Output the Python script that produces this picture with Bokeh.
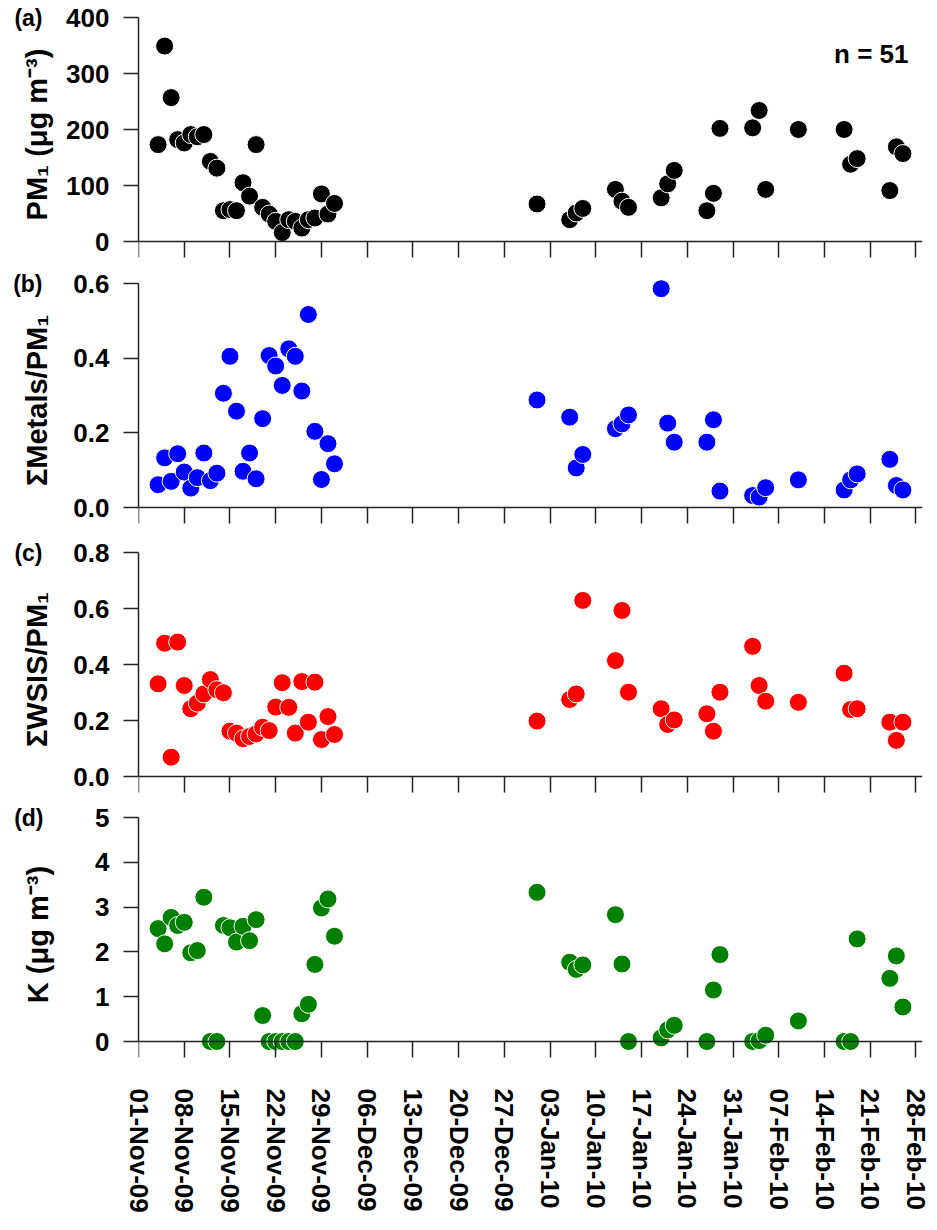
import pandas as pd
from bokeh.plotting import figure
from bokeh.layouts import column
from bokeh.models import (Range1d, FixedTicker, DatetimeAxis, LinearAxis,
                          NumeralTickFormatter, CustomJSTickFormatter, Label)
from bokeh.embed import file_html
from bokeh.resources import INLINE

# sampling dates (n = 51)
dates = [
    "2009-11-04", "2009-11-05", "2009-11-06", "2009-11-07", "2009-11-08",
    "2009-11-09", "2009-11-10", "2009-11-11", "2009-11-12", "2009-11-13",
    "2009-11-14", "2009-11-15", "2009-11-16", "2009-11-17", "2009-11-18",
    "2009-11-19", "2009-11-20", "2009-11-21", "2009-11-22", "2009-11-23",
    "2009-11-24", "2009-11-25", "2009-11-26", "2009-11-27", "2009-11-28",
    "2009-11-29", "2009-11-30", "2009-12-01",
    "2010-01-01", "2010-01-06", "2010-01-07", "2010-01-08", "2010-01-13",
    "2010-01-14", "2010-01-15", "2010-01-20", "2010-01-21", "2010-01-22",
    "2010-01-27", "2010-01-28", "2010-01-29", "2010-02-03", "2010-02-04",
    "2010-02-05", "2010-02-10", "2010-02-17", "2010-02-18", "2010-02-19",
    "2010-02-24", "2010-02-25", "2010-02-26",
]

pm1 = [173, 349, 257, 182, 176, 191, 187, 191, 143, 131,
       55, 57, 55, 105, 81, 173, 61, 49, 36, 16,
       39, 36, 24, 39, 42, 85, 49, 68,
       67, 39, 51, 59, 93, 72, 61, 78, 103, 127,
       55, 86, 202, 203, 234, 93, 200, 200, 138, 148,
       91, 169, 157]

metals_ratio = [0.061, 0.133, 0.070, 0.144, 0.095, 0.052, 0.080, 0.146, 0.072, 0.092,
                0.306, 0.405, 0.258, 0.097, 0.146, 0.077, 0.238, 0.407, 0.379, 0.327,
                0.425, 0.405, 0.312, 0.517, 0.204, 0.075, 0.171, 0.117,
                0.288, 0.242, 0.106, 0.142, 0.211, 0.224, 0.248, 0.586, 0.226, 0.175,
                0.175, 0.235, 0.044, 0.032, 0.028, 0.053, 0.074, 0.047, 0.074, 0.090,
                0.129, 0.059, 0.047]

wsis_ratio = [0.331, 0.476, 0.069, 0.480, 0.325, 0.242, 0.262, 0.295, 0.346, 0.310,
              0.299, 0.162, 0.155, 0.135, 0.143, 0.152, 0.176, 0.164, 0.248, 0.335,
              0.247, 0.155, 0.339, 0.194, 0.337, 0.132, 0.214, 0.150,
              0.198, 0.275, 0.295, 0.629, 0.414, 0.593, 0.301, 0.242, 0.186, 0.202,
              0.224, 0.162, 0.301, 0.465, 0.325, 0.269, 0.265, 0.369, 0.239, 0.242,
              0.194, 0.129, 0.194]

k_conc = [2.52, 2.18, 2.77, 2.59, 2.66, 1.98, 2.03, 3.22, 0, 0,
          2.59, 2.54, 2.22, 2.57, 2.25, 2.72, 0.58, 0, 0, 0,
          0, 0, 0.62, 0.83, 1.72, 2.98, 3.18, 2.35,
          3.33, 1.77, 1.61, 1.71, 2.83, 1.73, 0, 0.08, 0.26, 0.36,
          0, 1.15, 1.94, 0, 0.02, 0.14, 0.46, 0, 0, 2.29,
          1.41, 1.91, 0.77]

tick_labels = ["01-Nov-09", "08-Nov-09", "15-Nov-09", "22-Nov-09", "29-Nov-09",
               "06-Dec-09", "13-Dec-09", "20-Dec-09", "27-Dec-09", "03-Jan-10",
               "10-Jan-10", "17-Jan-10", "24-Jan-10", "31-Jan-10", "07-Feb-10",
               "14-Feb-10", "21-Feb-10", "28-Feb-10"]

pm1_ticks = [0, 100, 200, 300, 400]
metals_ticks = [0.0, 0.2, 0.4, 0.6]
wsis_ticks = [0.0, 0.2, 0.4, 0.6, 0.8]
k_ticks = [0, 1, 2, 3, 4, 5]

x = pd.to_datetime(dates)
x_start, x_end = pd.Timestamp("2009-11-01"), pd.Timestamp("2010-03-01")
x_range = Range1d(x_start, x_end)
to_ms = lambda t: float((t - pd.Timestamp("1970-01-01")) // pd.Timedelta(milliseconds=1))
tick_ms = [to_ms(t) for t in pd.to_datetime(tick_labels, format="%d-%b-%y")]

FONT = "Liberation Sans"
AXIS_COLOR = "#222222"


def style_text(ax, size="26px"):
    ax.major_label_text_font = FONT
    ax.major_label_text_font_size = size
    ax.major_label_text_font_style = "bold"
    ax.major_label_text_color = "black"
    ax.axis_label_text_font = FONT
    ax.axis_label_text_font_size = "29px"
    ax.axis_label_text_font_style = "bold"
    ax.axis_label_text_color = "black"


def make_panel(y, color, ylabel, letter, yticks, yfmt, label_gap,
               border_top, border_bottom, last=False):
    top = yticks[-1]
    unit = top / 224.0  # data units per pixel
    p = figure(title=None, x_axis_type="datetime", x_range=x_range,
               y_range=Range1d(-17 * unit, top + 7 * unit),
               frame_width=784, frame_height=248,
               min_border_left=138, min_border_right=13,
               min_border_top=border_top, min_border_bottom=border_bottom,
               toolbar_location=None, output_backend="svg")
    p.grid.visible = False
    p.outline_line_color = None

    p.scatter(x, y, size=18, fill_color=color, line_color="white", line_width=1)

    yax = p.yaxis[0]
    yax.ticker = FixedTicker(ticks=yticks)
    yax.formatter = NumeralTickFormatter(format=yfmt)
    yax.bounds = (0, top)
    yax.minor_tick_line_color = None
    yax.major_tick_in = 0
    yax.major_tick_out = 15
    yax.major_label_standoff = 14
    yax.axis_label = ylabel
    yax.axis_label_standoff = label_gap

    # x axis drawn at y = 0 (line + ticks only)
    xax = p.xaxis[0]
    xax.fixed_location = 0
    xax.ticker = FixedTicker(ticks=tick_ms)
    xax.formatter = CustomJSTickFormatter(code="return ''")
    xax.minor_tick_line_color = None
    xax.major_tick_in = 0
    xax.major_tick_out = 16

    for ax in (xax, yax):
        ax.axis_line_color = AXIS_COLOR
        ax.axis_line_width = 1.5
        ax.major_tick_line_color = AXIS_COLOR
        ax.major_tick_line_width = 1.5
        style_text(ax)

    # panel letter, as a label-only axis on the left
    lax = LinearAxis(ticker=FixedTicker(ticks=[top]),
                     major_label_overrides={top: letter},
                     axis_line_color=None, major_tick_line_color=None,
                     minor_tick_line_color=None, major_tick_in=0, major_tick_out=0,
                     major_label_standoff=-24)
    style_text(lax, "23px")
    p.add_layout(lax, "left")

    if last:
        # date labels below the frame (a fixed-location axis gets clipped)
        dax = DatetimeAxis(ticker=FixedTicker(ticks=tick_ms),
                           major_label_overrides=dict(zip(tick_ms, tick_labels)),
                           axis_line_color=None, major_tick_line_color=None,
                           minor_tick_line_color=None, major_tick_in=0,
                           major_tick_out=0, major_label_standoff=30,
                           major_label_orientation="vertical")
        style_text(dax)
        p.add_layout(dax, "below")
    return p


pa = make_panel(pm1, "#000000", "PM\u2081 (\u03bcg m\u207b\u00b3)", "(a)",
                pm1_ticks, "0", 10, 10, 3)
pa.add_layout(Label(x=x_end, y=400, x_offset=-14, y_offset=-36, text="n = 51",
                    text_align="right", text_baseline="middle", text_font=FONT,
                    text_font_size="26px", text_font_style="bold", text_color="black"))
pb = make_panel(metals_ratio, "#0000ff", "\u03a3Metals/PM\u2081", "(b)",
                metals_ticks, "0.0", 17, 15, 6)
pc = make_panel(wsis_ratio, "#ff0000", "\u03a3WSIS/PM\u2081", "(c)",
                wsis_ticks, "0.0", 17, 15, 2)
pd_ = make_panel(k_conc, "#008000", "K (\u03bcg m\u207b\u00b3)", "(d)",
                 k_ticks, "0", 38, 15, 168, last=True)

layout = column(pa, pb, pc, pd_, spacing=0)
open("out.html", "w").write(file_html(layout, INLINE))
